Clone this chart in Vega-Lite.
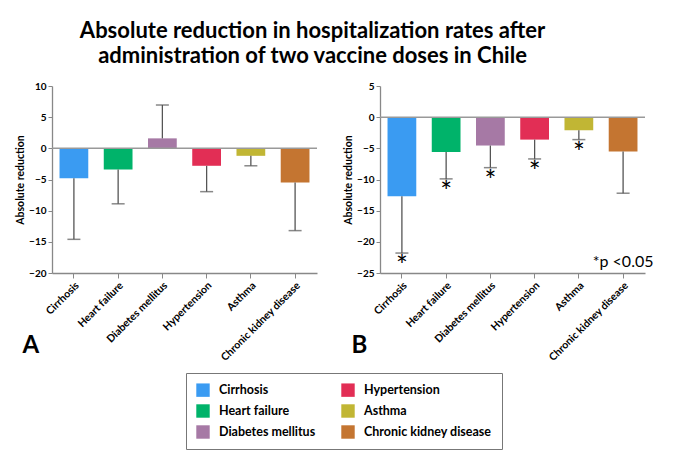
{
  "$schema": "https://vega.github.io/schema/vega-lite/v6.json",
  "background": "white",
  "padding": {"left": 15, "top": 20, "right": 10, "bottom": 10},
  "title": {
    "text": ["Absolute reduction in hospitalization rates after", "administration of two vaccine doses in Chile"],
    "font": "Lato",
    "fontSize": 22,
    "fontWeight": "bold",
    "color": "#000000",
    "anchor": "middle",
    "lineHeight": 25,
    "offset": 13,
    "dx": -22
  },
  "datasets": {
    "a": [
      {"condition": "Cirrhosis", "value": -4.8, "err": -14.6, "sig": ""},
      {"condition": "Heart failure", "value": -3.4, "err": -8.9, "sig": ""},
      {"condition": "Diabetes mellitus", "value": 1.6, "err": 6.95, "sig": ""},
      {"condition": "Hypertension", "value": -2.8, "err": -6.95, "sig": ""},
      {"condition": "Asthma", "value": -1.2, "err": -2.8, "sig": ""},
      {"condition": "Chronic kidney disease", "value": -5.5, "err": -13.2, "sig": ""}
    ],
    "b": [
      {"condition": "Cirrhosis", "value": -12.7, "err": -21.8, "sig": "*"},
      {"condition": "Heart failure", "value": -5.6, "err": -9.9, "sig": "*"},
      {"condition": "Diabetes mellitus", "value": -4.55, "err": -8.1, "sig": "*"},
      {"condition": "Hypertension", "value": -3.6, "err": -6.7, "sig": "*"},
      {"condition": "Asthma", "value": -2.1, "err": -3.6, "sig": "*"},
      {"condition": "Chronic kidney disease", "value": -5.5, "err": -12.2, "sig": ""}
    ],
    "note": [
      {"condition": "Chronic kidney disease", "y": -23.3, "label": "*p <0.05"}
    ]
  },
  "hconcat": [
    {
      "width": 265,
      "height": 187,
      "data": {"name": "a"},
      "title": {"text": "A", "orient": "bottom", "anchor": "start", "frame": "bounds", "fontSize": 24, "font": "Lato", "fontWeight": "bold", "color": "#000000", "offset": -29, "dx": 7},
      "encoding": {
        "x": {"field": "condition", "type": "nominal", "sort": ["Cirrhosis", "Heart failure", "Diabetes mellitus", "Hypertension", "Asthma", "Chronic kidney disease"], "scale": {"paddingInner": 0.35, "paddingOuter": 0.17}, "axis": {"title": null}}
      },
      "layer": [
        {
          "mark": {"type": "bar"},
          "encoding": {
            "y": {"field": "value", "type": "quantitative", "scale": {"domain": [-20, 10], "nice": false, "zero": false}, "axis": {"title": "Absolute reduction", "values": [-20, -15, -10, -5, 0, 5, 10]}},
            "color": {"field": "condition", "type": "nominal", "scale": {"domain": ["Cirrhosis", "Heart failure", "Diabetes mellitus", "Hypertension", "Asthma", "Chronic kidney disease"], "range": ["#3A9BF2", "#00B36A", "#A679A5", "#E22E55", "#C1B634", "#C47531"]}, "legend": {"orient": "none", "legendX": 134, "legendY": 287, "columns": 2, "title": null}}
          }
        },
        {
          "mark": {"type": "rule", "color": "#555555", "strokeWidth": 1.3},
          "encoding": {"y": {"field": "value", "type": "quantitative", "axis": {"title": "Absolute reduction", "values": [-20, -15, -10, -5, 0, 5, 10]}}, "y2": {"field": "err"}}
        },
        {
          "mark": {"type": "tick", "color": "#555555", "size": 13, "thickness": 1.5},
          "encoding": {"y": {"field": "err", "type": "quantitative", "axis": {"title": "Absolute reduction", "values": [-20, -15, -10, -5, 0, 5, 10]}}}
        },
        {
          "data": {"values": [{"z": 0}]},
          "mark": {"type": "rule", "color": "#999999", "strokeWidth": 1.5},
          "encoding": {"y": {"field": "z", "type": "quantitative", "axis": {"title": "Absolute reduction", "values": [-20, -15, -10, -5, 0, 5, 10]}}, "x": null}
        }
      ]
    },
    {
      "width": 265,
      "height": 187,
      "data": {"name": "b"},
      "title": {"text": "B", "orient": "bottom", "anchor": "start", "frame": "bounds", "fontSize": 24, "font": "Lato", "fontWeight": "bold", "color": "#000000", "offset": -29, "dx": 8},
      "encoding": {
        "x": {"field": "condition", "type": "nominal", "sort": ["Cirrhosis", "Heart failure", "Diabetes mellitus", "Hypertension", "Asthma", "Chronic kidney disease"], "scale": {"paddingInner": 0.35, "paddingOuter": 0.17}, "axis": {"title": null}}
      },
      "layer": [
        {
          "mark": {"type": "bar"},
          "encoding": {
            "y": {"field": "value", "type": "quantitative", "scale": {"domain": [-25, 5], "nice": false, "zero": false}, "axis": {"title": "Absolute reduction", "values": [-25, -20, -15, -10, -5, 0, 5]}},
            "color": {"field": "condition", "type": "nominal"}
          }
        },
        {
          "mark": {"type": "rule", "color": "#555555", "strokeWidth": 1.3},
          "encoding": {"y": {"field": "value", "type": "quantitative", "axis": {"title": "Absolute reduction", "values": [-25, -20, -15, -10, -5, 0, 5]}}, "y2": {"field": "err"}}
        },
        {
          "mark": {"type": "tick", "color": "#555555", "size": 13, "thickness": 1.5},
          "encoding": {"y": {"field": "err", "type": "quantitative", "axis": {"title": "Absolute reduction", "values": [-25, -20, -15, -10, -5, 0, 5]}}}
        },
        {
          "transform": [{"filter": "datum.sig != ''"}],
          "mark": {"type": "text", "font": "Lato", "fontSize": 28, "baseline": "top", "color": "#000000", "dy": 1},
          "encoding": {"y": {"field": "err", "type": "quantitative", "axis": {"title": "Absolute reduction", "values": [-25, -20, -15, -10, -5, 0, 5]}}, "text": {"field": "sig"}}
        },
        {
          "data": {"name": "note"},
          "mark": {"type": "text", "font": "Lato", "fontSize": 16, "align": "center", "baseline": "middle", "color": "#000000"},
          "encoding": {"y": {"field": "y", "type": "quantitative", "axis": {"title": "Absolute reduction", "values": [-25, -20, -15, -10, -5, 0, 5]}}, "text": {"field": "label"}}
        },
        {
          "data": {"values": [{"z": 0}]},
          "mark": {"type": "rule", "color": "#999999", "strokeWidth": 1.5},
          "encoding": {"y": {"field": "z", "type": "quantitative", "axis": {"title": "Absolute reduction", "values": [-25, -20, -15, -10, -5, 0, 5]}}, "x": null}
        }
      ]
    }
  ],
  "spacing": 25,
  "config": {
    "view": {"stroke": null},
    "axis": {
      "grid": false,
      "labelFont": "Lato",
      "labelFontWeight": "bold",
      "labelFontSize": 10,
      "labelColor": "#000000",
      "labelOverlap": false,
      "titleFont": "Lato",
      "titleFontWeight": "bold",
      "titleFontSize": 10.5,
      "titleColor": "#000000",
      "domainColor": "#888888",
      "domainWidth": 1.3,
      "tickColor": "#888888",
      "tickSize": 4
    },
    "axisX": {"labelAngle": -45, "labelAlign": "right", "labelBaseline": "top", "labelPadding": 2, "tickSize": 5, "labelFontSize": 10.5},
    "axisY": {"titlePadding": 3},
    "legend": {
      "symbolType": "square",
      "symbolSize": 180,
      "symbolStrokeWidth": 0,
      "labelFont": "Lato",
      "labelFontWeight": "bold",
      "labelFontSize": 12.5,
      "labelColor": "#000000",
      "labelOffset": 9,
      "rowPadding": 7,
      "columnPadding": 25,
      "padding": 10,
      "strokeColor": "#777777",
      "fillColor": "#ffffff"
    }
  }
}
